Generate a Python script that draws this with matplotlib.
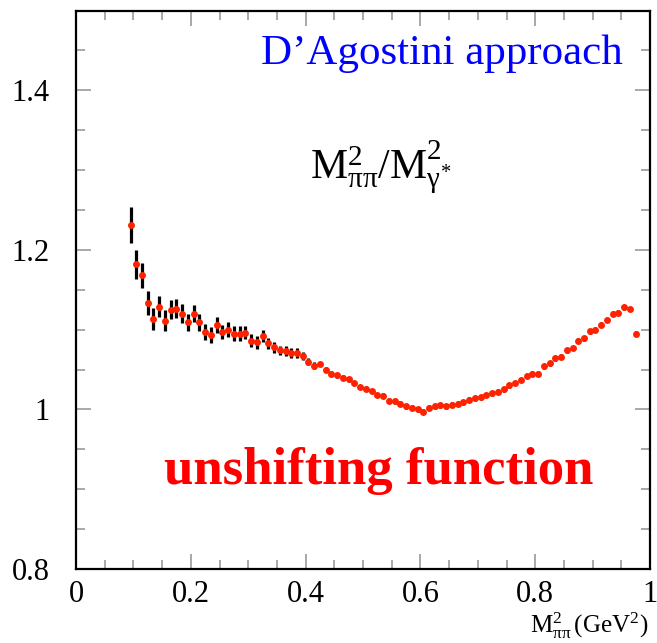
import numpy as np
import matplotlib.pyplot as plt
from matplotlib.ticker import MultipleLocator

plt.rcParams['font.family'] = ['Liberation Serif', 'DejaVu Serif']
plt.rcParams['mathtext.fontset'] = 'custom'
plt.rcParams['mathtext.rm'] = 'Liberation Serif'
plt.rcParams['mathtext.it'] = 'Liberation Serif'
plt.rcParams['mathtext.bf'] = 'Liberation Serif:bold'

# unshifting function, 0.01 GeV^2 bins starting at 0.095
m2_pipi = np.round(np.arange(89) * 0.01 + 0.095, 3)
ratio = [1.231, 1.182, 1.168, 1.133, 1.113, 1.129, 1.111, 1.125, 1.126, 1.120,
         1.109, 1.120, 1.109, 1.097, 1.093, 1.106, 1.097, 1.100, 1.095, 1.095,
         1.096, 1.086, 1.084, 1.092, 1.083, 1.078, 1.074, 1.073, 1.071, 1.071,
         1.067, 1.060, 1.055, 1.057, 1.050, 1.045, 1.043, 1.040, 1.038, 1.033,
         1.028, 1.026, 1.023, 1.018, 1.017, 1.011, 1.010, 1.007, 1.004, 1.002,
         1.000, 0.997, 1.002, 1.004, 1.005, 1.004, 1.006, 1.007, 1.009, 1.012,
         1.014, 1.015, 1.018, 1.020, 1.022, 1.025, 1.030, 1.033, 1.037, 1.042,
         1.045, 1.045, 1.054, 1.058, 1.064, 1.066, 1.074, 1.077, 1.086, 1.089,
         1.098, 1.100, 1.106, 1.112, 1.120, 1.121, 1.128, 1.126, 1.095]
ratio_err = [0.023, 0.018, 0.016, 0.015, 0.014, 0.013, 0.013, 0.012, 0.012, 0.012,
             0.011, 0.011, 0.011, 0.010, 0.010, 0.010, 0.009, 0.009, 0.009, 0.009,
             0.008, 0.008, 0.008, 0.008, 0.007, 0.007, 0.006, 0.006, 0.006, 0.006,
             0.005, 0.004, 0.004, 0.003, 0.003, 0.003, 0.003, 0.003, 0.003, 0.003,
             0.003, 0.003, 0.003, 0.003, 0.003, 0.003, 0.003, 0.003, 0.003, 0.003,
             0.003, 0.003, 0.003, 0.003, 0.003, 0.003, 0.003, 0.003, 0.003, 0.003,
             0.003, 0.003, 0.003, 0.003, 0.003, 0.003, 0.003, 0.003, 0.003, 0.003,
             0.003, 0.003, 0.003, 0.003, 0.003, 0.003, 0.003, 0.003, 0.003, 0.003,
             0.003, 0.003, 0.003, 0.003, 0.003, 0.003, 0.003, 0.003, 0.003]

x_ticks = [0, 0.2, 0.4, 0.6, 0.8, 1.0]
x_ticklabels = ['0', '0.2', '0.4', '0.6', '0.8', '1']
y_ticks = [0.8, 1.0, 1.2, 1.4]
y_ticklabels = ['0.8', '1', '1.2', '1.4']

fig = plt.figure(figsize=(6.57, 6.43), dpi=100)
ax = fig.add_axes([76 / 657, 1 - 569 / 643, 574 / 657, (569 - 10.5) / 643])

ax.errorbar(m2_pipi, ratio, yerr=ratio_err, fmt='none', ecolor='black',
            elinewidth=2.3, capsize=0, zorder=2)
ax.plot(m2_pipi, ratio, 'o', color='#ff2200', markersize=5.0,
        markeredgewidth=0, zorder=3)

ax.set_xlim(0, 1)
ax.set_ylim(0.8, 1.5)
ax.set_xticks(x_ticks)
ax.set_xticklabels(x_ticklabels)
ax.set_yticks(y_ticks)
ax.set_yticklabels(y_ticklabels)
ax.xaxis.set_minor_locator(MultipleLocator(0.05))
ax.yaxis.set_minor_locator(MultipleLocator(0.05))
ax.tick_params(which='both', direction='in', top=True, right=True,
               color='#9a9a9a', width=1.2, labelsize=22)
ax.tick_params(which='major', length=11)
ax.tick_params(which='minor', length=6.5)
ax.tick_params(axis='x', pad=8)
ax.tick_params(axis='y', pad=19)
for s in ax.spines.values():
    s.set_linewidth(1.6)

ax.text(0.953, 0.957, 'D\u2019Agostini approach', transform=ax.transAxes,
        ha='right', va='top', color='#0000ff', fontsize=31)
ax.text(0.531, 0.72, r'$\mathrm{M}^{2}_{\pi\pi}/\mathrm{M}^{2}_{\gamma^{*}}$',
        transform=ax.transAxes, ha='center', va='center', fontsize=30)
ax.text(0.528, 0.175, 'unshifting function', transform=ax.transAxes,
        ha='center', va='center', color='#ff0000', fontsize=38,
        fontweight='bold')
fig.text(648 / 657, 2 / 643, r'$\mathrm{M}^{2}_{\pi\pi}\,(\mathrm{GeV}^{2})$',
         ha='right', va='bottom', fontsize=18)

fig.savefig('out.png', dpi=100)
